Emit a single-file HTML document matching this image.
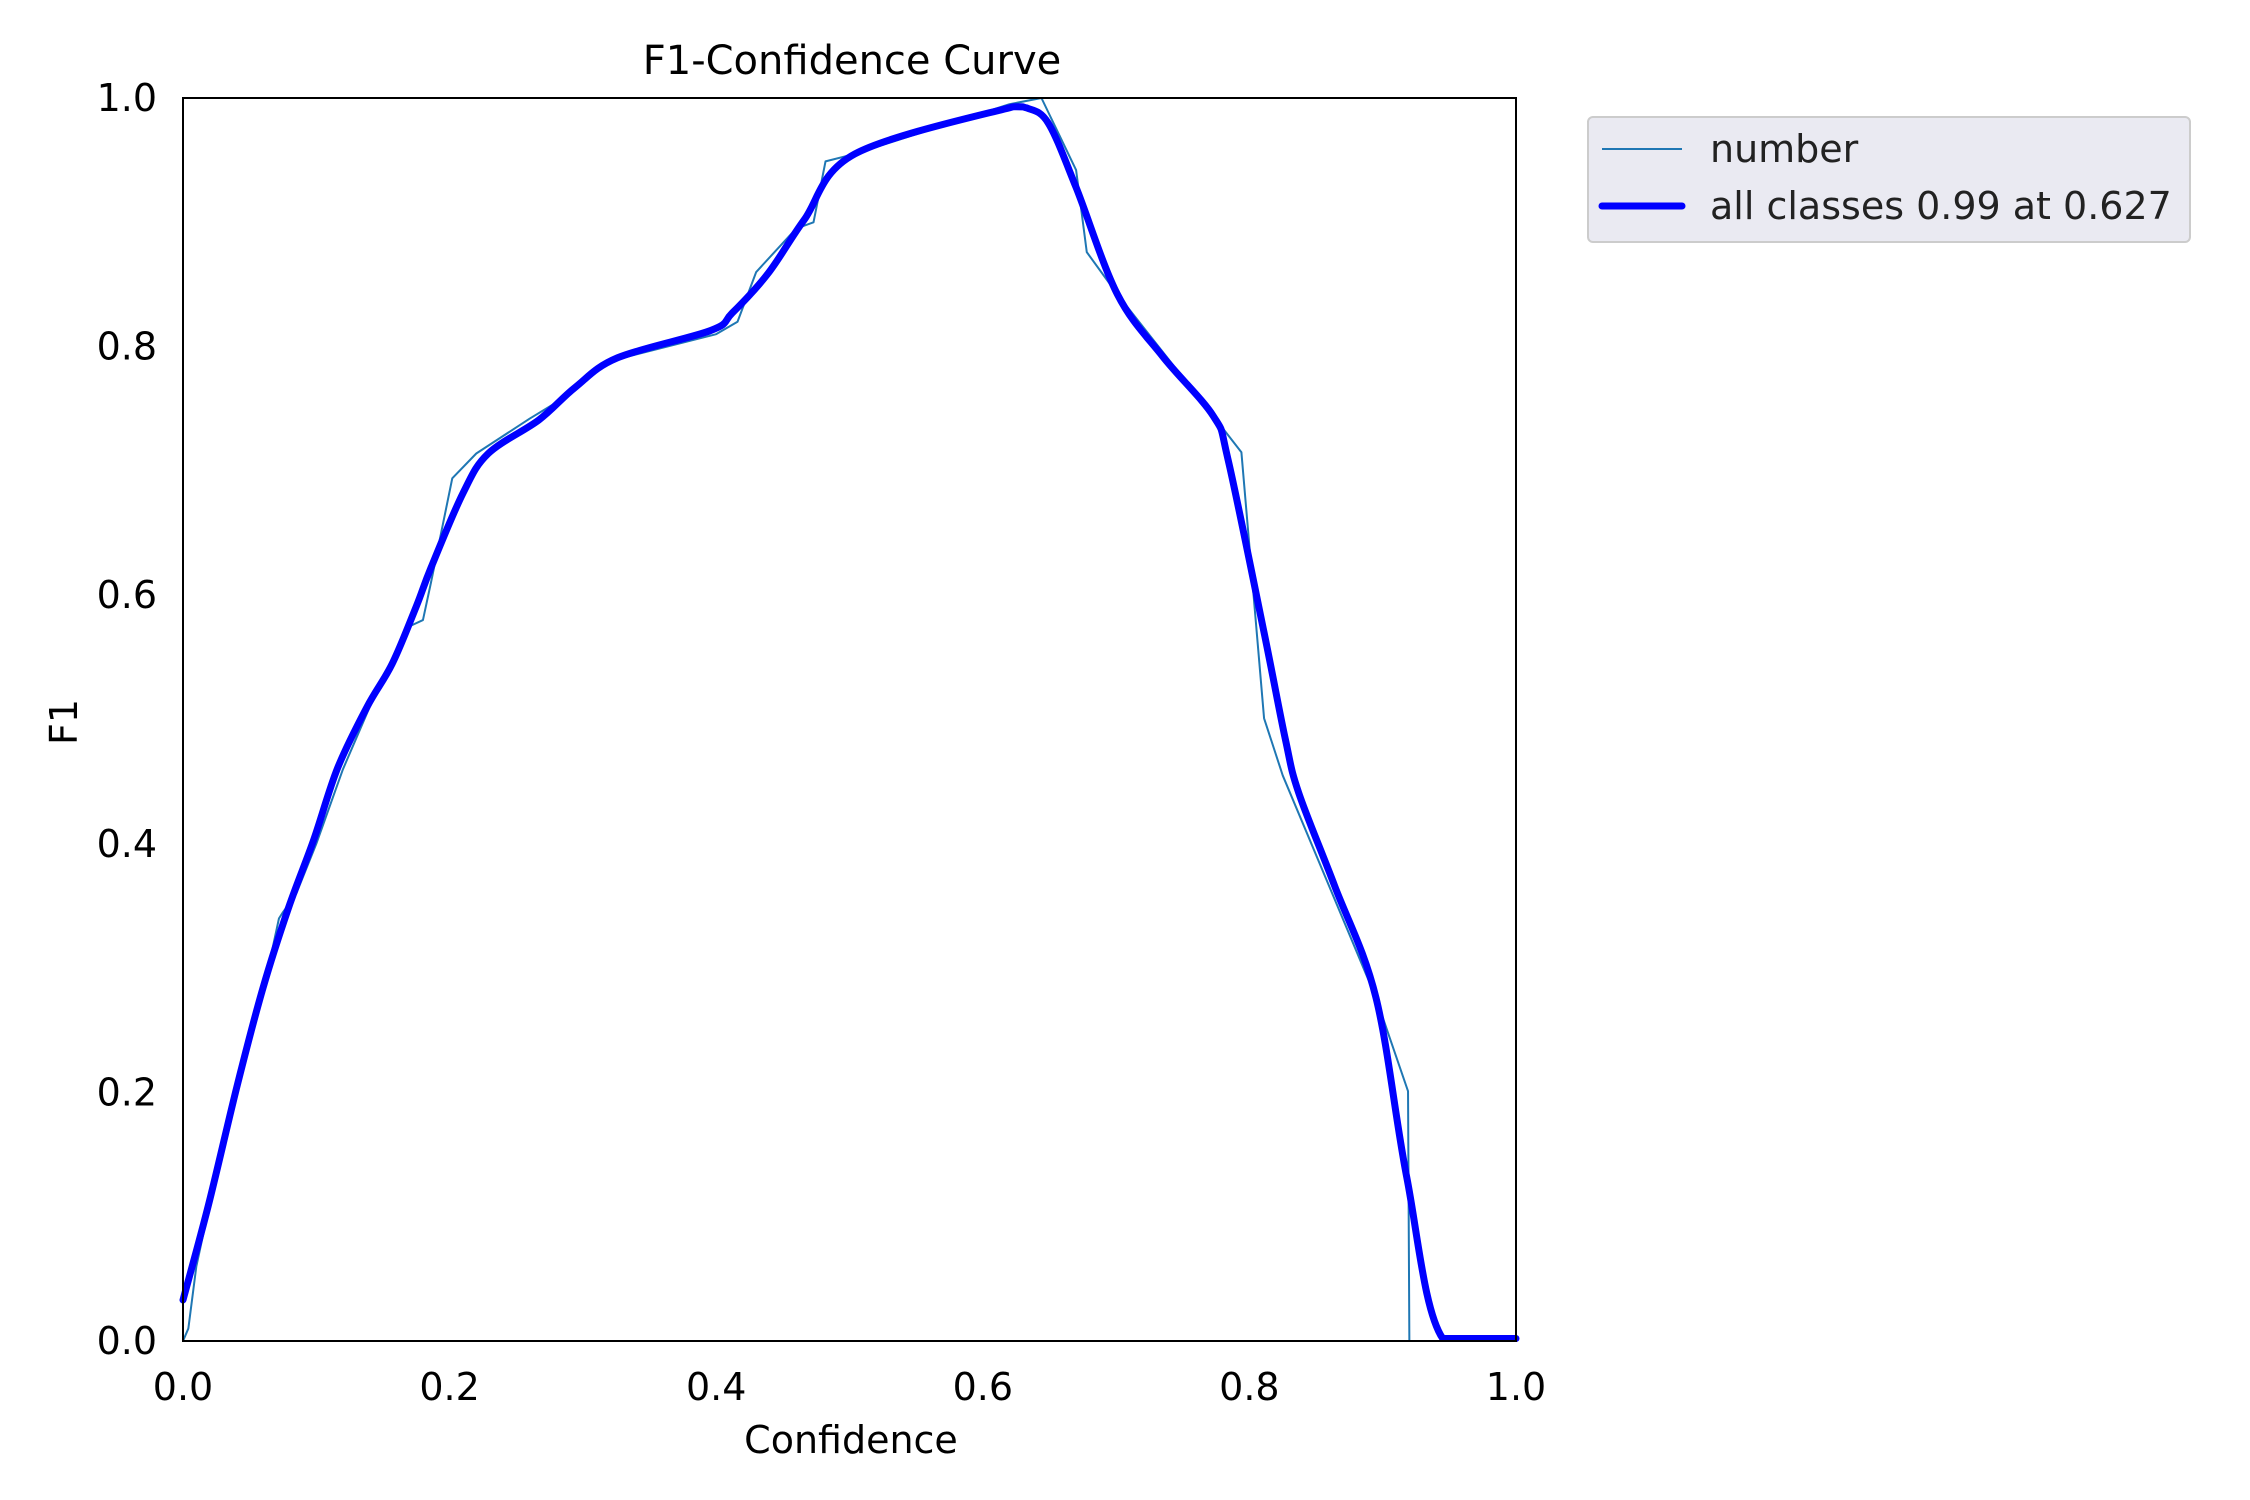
<!DOCTYPE html>
<html><head><meta charset="utf-8"><style>
html,body{margin:0;padding:0;background:#fff;}
svg{display:block;font-family:"DejaVu Sans","Liberation Sans",sans-serif;}
</style></head><body>
<svg id="chart" width="2250" height="1500" viewBox="0 0 2250 1500">
<text x="852" y="74" font-size="40" text-anchor="middle">F1-Confidence Curve</text>
<g id="ticks"></g>
<g id="plot"></g>
<rect x="183" y="98" width="1333" height="1243" fill="none" stroke="#000" stroke-width="2"/>
<text x="851" y="1453" font-size="38" text-anchor="middle">Confidence</text>
<text x="77" y="722" font-size="38" text-anchor="middle" transform="rotate(-90 77 722)">F1</text>
<g>
<rect x="1588" y="117" width="602" height="125" rx="5" fill="#eaeaf2" stroke="#cccccc" stroke-width="2"/>
<line x1="1602" y1="149" x2="1682" y2="149" stroke="#1f77b4" stroke-width="2"/>
<text x="1710" y="162" font-size="38" fill="#222">number</text>
<line x1="1602" y1="206" x2="1682" y2="206" stroke="#0000ff" stroke-width="7" stroke-linecap="round"/>
<text x="1710" y="219" font-size="38" fill="#222">all classes 0.99 at 0.627</text>
</g>
</svg>
<script>
const xTicks=[0,0.2,0.4,0.6,0.8,1.0];
const yTicks=[0,0.2,0.4,0.6,0.8,1.0];
const numberConf=[0,0.004,0.01,0.02,0.04,0.042,0.06,0.072,0.075,0.085,0.1,0.12,0.14,0.16,0.17,0.18,0.186,0.202,0.22,0.26,0.28,0.31,0.33,0.4,0.416,0.43,0.46,0.473,0.482,0.504,0.62,0.644,0.67,0.678,0.701,0.773,0.794,0.811,0.825,0.895,0.919,0.92,1.0];
const numberF1=[0,0.01,0.06,0.11,0.2,0.215,0.28,0.34,0.345,0.36,0.4,0.46,0.51,0.55,0.575,0.58,0.61,0.694,0.714,0.742,0.755,0.783,0.791,0.81,0.82,0.86,0.895,0.9,0.949,0.955,0.995,1.0,0.942,0.876,0.842,0.744,0.715,0.501,0.455,0.276,0.201,0,0];
const allConf=[0,0.019,0.041,0.06,0.079,0.098,0.116,0.138,0.157,0.175,0.186,0.21,0.229,0.267,0.294,0.326,0.396,0.412,0.439,0.466,0.504,0.623,0.633,0.649,0.67,0.701,0.735,0.773,0.784,0.811,0.827,0.837,0.864,0.895,0.918,0.945,1.0];
const allF1=[0.033,0.109,0.207,0.284,0.348,0.403,0.461,0.51,0.545,0.591,0.622,0.682,0.714,0.741,0.767,0.791,0.813,0.827,0.859,0.902,0.955,0.993,0.992,0.98,0.928,0.842,0.792,0.744,0.709,0.57,0.484,0.441,0.366,0.276,0.132,0.002,0.002];
const X0=183,X1=1516,Y0=1341,Y1=98;
const sx=v=>X0+v*(X1-X0), sy=v=>Y0-v*(Y0-Y1);
const NS='http://www.w3.org/2000/svg';
const tg=document.getElementById('ticks'), pg=document.getElementById('plot');
xTicks.forEach(t=>{
  const tx=document.createElementNS(NS,'text');
  tx.setAttribute('x',sx(t));tx.setAttribute('y',1400);tx.setAttribute('font-size','38');tx.setAttribute('text-anchor','middle');
  tx.textContent=t.toFixed(1);
  
  
  tg.appendChild(tx);
});
yTicks.forEach(t=>{
  const tx=document.createElementNS(NS,'text');
  tx.setAttribute('x',157);tx.setAttribute('y',sy(t)+13);tx.setAttribute('font-size','38');tx.setAttribute('text-anchor','end');
  tx.textContent=t.toFixed(1);
  
  
  tg.appendChild(tx);
});
function line(xs,ys,color,w,name){
  const p=document.createElementNS(NS,'polyline');
  p.setAttribute('points',xs.map((x,i)=>sx(x)+','+sy(ys[i])).join(' '));
  p.setAttribute('fill','none');p.setAttribute('stroke',color);p.setAttribute('stroke-width',w);
  p.setAttribute('stroke-linejoin','round');p.setAttribute('stroke-linecap','round');
  
  
  pg.appendChild(p);
}
function smooth(xs,ys,color,w,name){
  const P=xs.map((x,i)=>[sx(x),sy(ys[i])]);
  const cl=(v,a,b)=>Math.max(Math.min(a,b),Math.min(Math.max(a,b),v));
  let d='M'+P[0][0]+','+P[0][1];
  for(let i=0;i<P.length-1;i++){
    const p0=P[Math.max(i-1,0)],p1=P[i],p2=P[i+1],p3=P[Math.min(i+2,P.length-1)];
    const c1=[cl(p1[0]+(p2[0]-p0[0])/6,p1[0],p2[0]),cl(p1[1]+(p2[1]-p0[1])/6,p1[1],p2[1])];
    const c2=[cl(p2[0]-(p3[0]-p1[0])/6,p1[0],p2[0]),cl(p2[1]-(p3[1]-p1[1])/6,p1[1],p2[1])];
    d+=' C'+c1[0]+','+c1[1]+' '+c2[0]+','+c2[1]+' '+p2[0]+','+p2[1];
  }
  const p=document.createElementNS(NS,'path');
  p.setAttribute('d',d);
  p.setAttribute('fill','none');p.setAttribute('stroke',color);p.setAttribute('stroke-width',w);
  p.setAttribute('stroke-linejoin','round');p.setAttribute('stroke-linecap','round');
  
  
  pg.appendChild(p);
}
line(numberConf,numberF1,'#1f77b4',2,'number-curve');
smooth(allConf,allF1,'#0000ff',7,'all-classes-curve');
</script>
</body></html>
